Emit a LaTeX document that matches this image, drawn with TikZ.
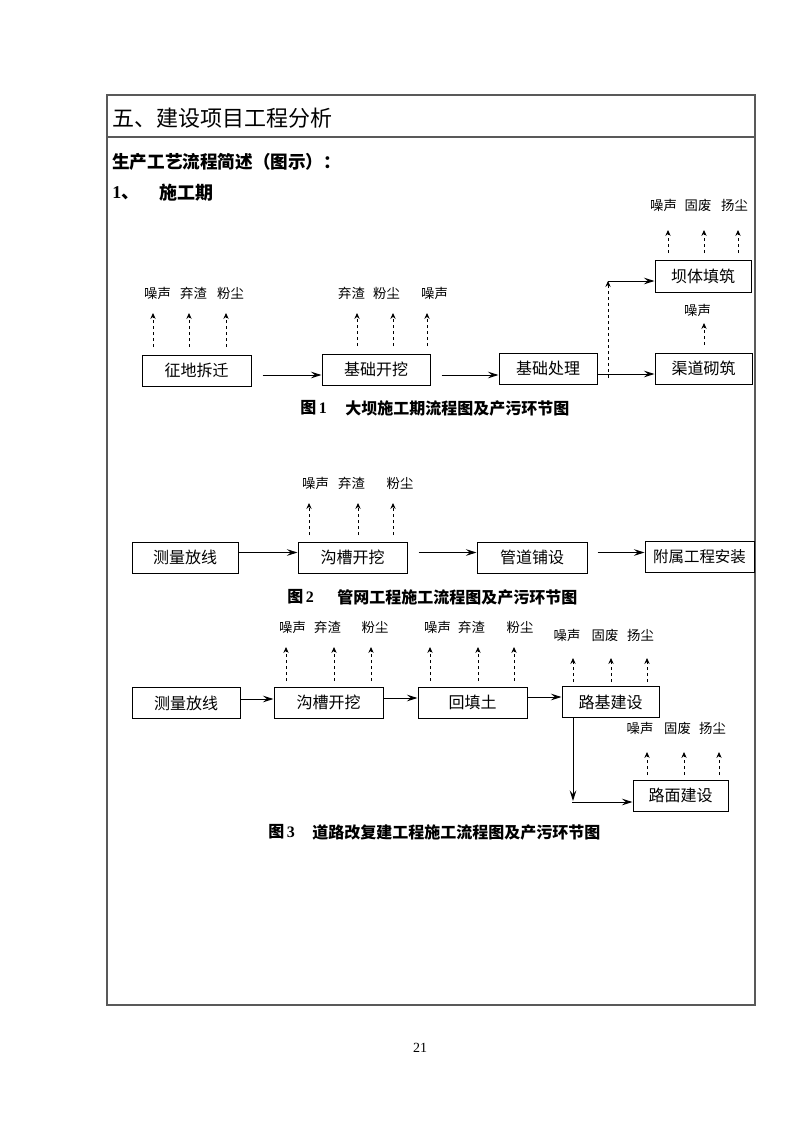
\documentclass[tikz,border=0pt]{standalone}
\usepackage{fontspec}
\setmainfont{Liberation Serif}
\newfontfamily\cjk{Noto Sans CJK SC}
\usetikzlibrary{arrows.meta}
\begin{document}
\begin{tikzpicture}[x=0.75pt,y=-0.75pt,
  box/.style={draw, line width=0.75pt, minimum height=23.25pt, inner sep=0pt, font=\cjk\fontsize{12}{12}\selectfont},
  lbl/.style={inner sep=0pt, font=\cjk\fontsize{10}{10}\selectfont},
  figcap/.style={inner sep=0pt, anchor=west, font=\cjk\bfseries\fontsize{12}{12}\selectfont},
  capnum/.style={inner sep=0pt, anchor=west, font=\bfseries\fontsize{12}{12}\selectfont},
  arr/.style={line width=0.75pt, -{Stealth[length=8pt,width=5pt,inset=3pt]}},
  darr/.style={line width=0.6pt, dash pattern=on 2.5pt off 2pt, -{Stealth[length=4.5pt,width=4pt,inset=1.6pt]}},
  framec/.style={draw=black!65, line width=1pt}
]
\useasboundingbox (0,0) rectangle (793,1121);
\fill[white] (0,0) rectangle (793,1121);

% frame
\draw[framec] (107,95) rectangle (755,1005);
\draw[framec] (107,137) -- (755,137);

% headings
\node[anchor=west, inner sep=0pt, font=\cjk\fontsize{16.5}{16.5}\selectfont] (title) at (112,118) {五、建设项目工程分析};
\node[anchor=west, inner sep=0pt, font=\cjk\bfseries\fontsize{13.2}{13.2}\selectfont] (sub) at (112,162) {生产工艺流程简述（图示）：};
\node[anchor=west, inner sep=0pt, font=\bfseries\fontsize{13.5}{13.5}\selectfont] (num1) at (112,193) {1\cjk 、};
\node[anchor=west, inner sep=0pt, font=\cjk\bfseries\fontsize{13.5}{13.5}\selectfont] (sec1) at (159,193) {施工期};

% ---------- Figure 1 ----------
\node[box, minimum width=81.75pt] (a1) at (196.5,370.5) {征地拆迁};
\node[box, minimum width=81pt] (a2) at (376,369.5) {基础开挖};
\node[box, minimum width=73.5pt] (a3) at (548,368.5) {基础处理};
\node[box, minimum width=72.75pt] (a4) at (703.5,368.5) {渠道砌筑};
\node[box, minimum width=72pt, minimum height=24pt] (a5) at (703,276) {坝体填筑};

\draw[arr] (a1.east |- 0,375) ++(11,0) -- (a2.west |- 0,375);
\draw[arr] (a2.east |- 0,375) ++(11,0) -- (a3.west |- 0,375);
\draw[arr] (a3.east |- 0,374) -- (a4.west |- 0,374);
\coordinate (k0) at (608,378);
\coordinate (k1) at (608,281);
\draw[darr] (k0) -- (k1);
\draw[arr] (k1) -- (a5.west |- k1);

\node[lbl] (l11) at (157.5,293) {噪声};
\node[lbl] (l12) at (193.5,293) {弃渣};
\node[lbl] (l13) at (230.5,293) {粉尘};
\draw[darr] (153,347) -- (153,313);
\draw[darr] (189,347) -- (189,313);
\draw[darr] (226,347) -- (226,313);

\node[lbl] (l21) at (351.5,293) {弃渣};
\node[lbl] (l22) at (386.5,293) {粉尘};
\node[lbl] (l23) at (434.5,293) {噪声};
\draw[darr] (357,346) -- (357,313);
\draw[darr] (393,346) -- (393,313);
\draw[darr] (427,346) -- (427,313);

\node[lbl] (l51) at (663.5,205) {噪声};
\node[lbl] (l52) at (698,205) {固废};
\node[lbl] (l53) at (734.5,205) {扬尘};
\draw[darr] (668,253) -- (668,230);
\draw[darr] (704,253) -- (704,230);
\draw[darr] (738,253) -- (738,230);

\node[lbl] (l41) at (697.5,310) {噪声};
\draw[darr] (704,345) -- (704,323);

\node[capnum] (f1n) at (300,408) {\cjk 图\,\normalfont\bfseries 1};
\node[figcap] (f1c) at (345,408) {大坝施工期流程图及产污环节图};

% ---------- Figure 2 ----------
\node[box, minimum width=79.5pt] (b1) at (185,557.5) {测量放线};
\node[box, minimum width=81.75pt] (b2) at (352.5,557.5) {沟槽开挖};
\node[box, minimum width=82.5pt] (b3) at (532,557.5) {管道铺设};
\node[box, minimum width=81.75pt, font=\cjk\fontsize{11.6}{11.6}\selectfont] (b4) at (699.5,557) {附属工程安装};

\draw[arr] (b1.east |- 0,552.5) -- (b2.west |- 0,552.5);
\draw[arr] (b2.east |- 0,552.5) ++(11,0) -- (b3.west |- 0,552.5);
\draw[arr] (b3.east |- 0,552.5) ++(10,0) -- (b4.west |- 0,552.5);

\node[lbl] (m1) at (315.5,483) {噪声};
\node[lbl] (m2) at (351.5,483) {弃渣};
\node[lbl] (m3) at (400,483) {粉尘};
\draw[darr] (309,535) -- (309,503);
\draw[darr] (358,535) -- (358,503);
\draw[darr] (393,535) -- (393,503);

\node[capnum] (f2n) at (287,597) {\cjk 图\,\normalfont\bfseries 2};
\node[figcap] (f2c) at (337,597) {管网工程施工流程图及产污环节图};

% ---------- Figure 3 ----------
\node[box, minimum width=81pt] (c1) at (186,703) {测量放线};
\node[box, minimum width=81.75pt] (c2) at (328.5,702.5) {沟槽开挖};
\node[box, minimum width=81.75pt] (c3) at (472.5,702.5) {回填土};
\node[box, minimum width=72.75pt] (c4) at (610.5,702) {路基建设};
\node[box, minimum width=71.25pt] (c5) at (680.5,795.5) {路面建设};

\draw[arr] (c1.east |- 0,699) -- (c2.west |- 0,699);
\draw[arr] (c2.east |- 0,698) -- (c3.west |- 0,698);
\draw[arr] (c3.east |- 0,697) -- (c4.west |- 0,697);
\coordinate (e1) at (573,801);
\coordinate (e2) at (573,802);
\draw[arr] (c4.south -| e1) -- (e1);
\draw[arr] ([xshift=-0.4pt]e2) -- (c5.west |- e2);

\node[lbl] (n21) at (292.5,627) {噪声};
\node[lbl] (n22) at (327.5,627) {弃渣};
\node[lbl] (n23) at (375,627) {粉尘};
\draw[darr] (286,681) -- (286,647);
\draw[darr] (334,681) -- (334,647);
\draw[darr] (371,681) -- (371,647);

\node[lbl] (n31) at (437.5,627) {噪声};
\node[lbl] (n32) at (471.5,627) {弃渣};
\node[lbl] (n33) at (520,627) {粉尘};
\draw[darr] (430,681) -- (430,647);
\draw[darr] (478,681) -- (478,647);
\draw[darr] (514,681) -- (514,647);

\node[lbl] (n41) at (567,635) {噪声};
\node[lbl] (n42) at (605,635) {固废};
\node[lbl] (n43) at (640.5,635) {扬尘};
\draw[darr] (573,682) -- (573,658);
\draw[darr] (611,682) -- (611,658);
\draw[darr] (647,682) -- (647,658);

\node[lbl] (n51) at (640,728) {噪声};
\node[lbl] (n52) at (677.5,728) {固废};
\node[lbl] (n53) at (712.5,728) {扬尘};
\draw[darr] (647,775) -- (647,752);
\draw[darr] (684,775) -- (684,752);
\draw[darr] (719,775) -- (719,752);

\node[capnum] (f3n) at (268,832) {\cjk 图\,\normalfont\bfseries 3};
\node[figcap] (f3c) at (312,832) {道路改复建工程施工流程图及产污环节图};

% page number
\node[inner sep=0pt, font=\fontsize{10.5}{10.5}\selectfont] (pg) at (420,1048) {21};
\end{tikzpicture}
\end{document}
